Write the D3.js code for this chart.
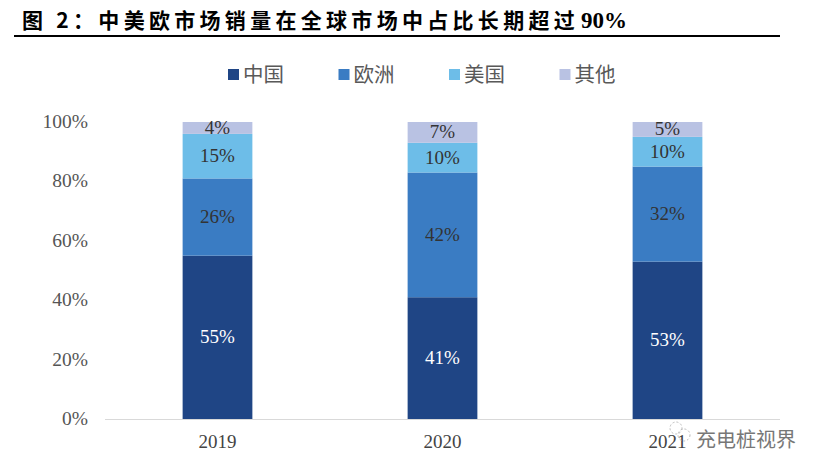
<!DOCTYPE html>
<html>
<head>
<meta charset="UTF-8">
<style>
  body { margin: 0; background: #fff; }
  svg { display: block; }
</style>
</head>
<body>
<svg></svg>
<script src="https://d3js.org/d3.v7.min.js"></script>
<script>
const years = ["2019", "2020", "2021"];
const regions = ["中国", "欧洲", "美国", "其他"];
const china = [55, 41, 53];
const europe = [26, 42, 32];
const usa = [15, 10, 10];
const other = [4, 7, 5];
const yTicks = [0, 20, 40, 60, 80, 100];
const colors = ["#1f4585", "#3a7cc3", "#6dbde8", "#b9c2e3"];

const width = 820, height = 474;
const svg = d3.select("svg").attr("width", width).attr("height", height);

// title + rule
const title = svg.append("text").attr("x", 22).attr("y", 28)
  .style("font-family", "'Noto Sans CJK SC', sans-serif")
  .style("font-weight", "bold").style("font-size", "21px").attr("fill", "#000");
title.append("tspan").style("letter-spacing", "4.3px").text("图 2：中美欧市场销量在全球市场中占比长期超过");
title.append("tspan").attr("dx", 2).style("font-family", "'Liberation Serif', serif")
  .style("font-size", "23px").text("90%");
svg.append("line").attr("x1", 14).attr("x2", 780).attr("y1", 36).attr("y2", 36)
  .attr("stroke", "#000").attr("stroke-width", 2);

// data table
const table = years.map((y, i) => ({ year: y, 中国: china[i], 欧洲: europe[i], 美国: usa[i], 其他: other[i] }));
const stacked = d3.stack().keys(regions)(table);

const x = d3.scaleBand().domain(years).range([105, 780]).paddingInner(0.69).paddingOuter(0.345);
const y = d3.scaleLinear().domain([0, 100]).range([419, 122]);

// y axis labels
svg.append("g").selectAll("text").data(yTicks).enter().append("text")
  .attr("x", 88).attr("y", d => y(d) + 6).attr("text-anchor", "end")
  .style("font-family", "'Liberation Serif', serif").style("font-size", "19.5px")
  .attr("fill", "#555").text(d => d + "%");

// bars
const layers = svg.append("g").selectAll("g").data(stacked).enter().append("g")
  .attr("fill", (d, i) => colors[i]);
layers.selectAll("rect").data(d => d).enter().append("rect")
  .attr("x", d => x(d.data.year)).attr("width", x.bandwidth())
  .attr("y", d => y(d[1])).attr("height", d => y(d[0]) - y(d[1]));

// value labels
layers.each(function (s, i) {
  d3.select(this).selectAll("text").data(s).enter().append("text")
    .attr("x", d => x(d.data.year) + x.bandwidth() / 2)
    .attr("y", d => (y(d[0]) + y(d[1])) / 2 + 6)
    .attr("text-anchor", "middle")
    .style("font-family", "'Liberation Serif', serif").style("font-size", "19px")
    .attr("fill", i === 0 ? "#fff" : "#333")
    .text(d => (d[1] - d[0]) + "%");
});

// baseline
svg.append("line").attr("x1", 105).attr("x2", 780).attr("y1", 419.5).attr("y2", 419.5)
  .attr("stroke", "#d9d9d9").attr("stroke-width", 1);

// x labels
svg.append("g").selectAll("text").data(years).enter().append("text")
  .attr("x", d => x(d) + x.bandwidth() / 2).attr("y", 448).attr("text-anchor", "middle")
  .style("font-family", "'Liberation Serif', serif").style("font-size", "19px")
  .attr("fill", "#444").text(d => d);

// legend
const legend = svg.append("g").selectAll("g").data(regions).enter().append("g")
  .attr("transform", (d, i) => `translate(${228 + i * 110.5},69)`);
legend.append("rect").attr("width", 11).attr("height", 11).attr("fill", (d, i) => colors[i]);
legend.append("text").attr("x", 15).attr("y", 12.5)
  .style("font-family", "'Noto Sans CJK SC', sans-serif").style("font-size", "20.5px")
  .attr("fill", "#595959").text(d => d);

// watermark
const wm = svg.append("g").attr("transform", "translate(676,428)");
wm.append("circle").attr("cx", 0).attr("cy", 0).attr("r", 6).attr("fill", "none")
  .attr("stroke", "#bbb").attr("stroke-dasharray", "2,2");
wm.append("circle").attr("cx", 8).attr("cy", 7).attr("r", 6).attr("fill", "none")
  .attr("stroke", "#bbb").attr("stroke-dasharray", "2,2");
wm.append("text").attr("x", 20).attr("y", 19)
  .style("font-family", "'Noto Sans CJK SC', sans-serif").style("font-size", "20px")
  .attr("fill", "#777").text("充电桩视界");
</script>
</body>
</html>
